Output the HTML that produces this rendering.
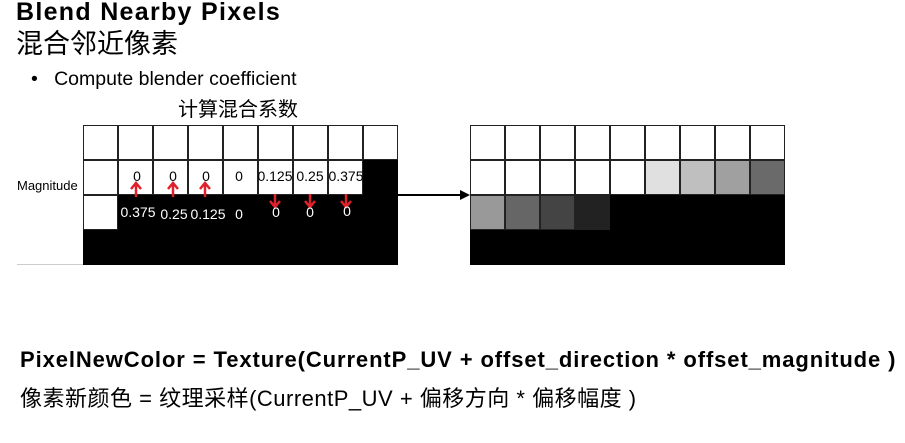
<!DOCTYPE html><html><head><meta charset="utf-8"><style>
body{margin:0;width:905px;height:443px;background:#fff;position:relative;overflow:hidden;font-family:"Liberation Sans","Noto Sans CJK SC",sans-serif}
.a{position:absolute;white-space:nowrap}
.c{position:absolute;width:33px;height:33px;border:1px solid #222;background:#fff}
.n{position:absolute;font-size:14px;width:40px;text-align:center;z-index:3}
</style></head><body>
<div class="a" style="left:16px;top:-2px;font-size:25px;font-weight:bold;letter-spacing:1.3px">Blend Nearby Pixels</div>
<div class="a" style="left:16px;top:22px;font-size:27px">混合邻近像素</div>
<div class="a" style="left:31px;top:68px;font-size:19.5px">•&nbsp;&nbsp;&nbsp;Compute blender coefficient</div>
<div class="a" style="left:178px;top:93px;font-size:20px">计算混合系数</div>
<div class="a" style="left:17px;top:178px;font-size:13px">Magnitude</div>
<div class="a" style="left:17px;top:264px;width:66px;height:1px;background:#ccc"></div>
<svg class="a" style="left:0;top:0;z-index:0" width="905" height="443">
<rect x="83" y="125" width="315" height="140" fill="#000"/>
<rect x="470" y="125" width="315" height="140" fill="#000"/>
<line x1="398" y1="195" x2="462" y2="195" stroke="#000" stroke-width="2"/>
<polygon points="470,195 460,190 460,200" fill="#000"/>
</svg>
<div id="g"></div>
<svg class="a" style="left:0;top:0;z-index:2" width="905" height="443">
<g stroke="#e0202a" stroke-width="2.5" fill="none">
<path d="M136 197V184M131 189L136 183L141 189"/>
<path d="M173 197V184M168 189L173 183L178 189"/>
<path d="M205 197V184M200 189L205 183L210 189"/>
<path d="M275 194V206M270 201L275 207L280 201"/>
<path d="M310 194V206M305 201L310 207L315 201"/>
<path d="M346 194V206M341 201L346 207L351 201"/>
</g></svg>
<div class="n" style="left:117px;top:168px">0</div>
<div class="n" style="left:153px;top:168px">0</div>
<div class="n" style="left:186px;top:168px">0</div>
<div class="n" style="left:219px;top:168px">0</div>
<div class="n" style="left:255px;top:168px">0.125</div>
<div class="n" style="left:290px;top:168px">0.25</div>
<div class="n" style="left:326px;top:168px">0.375</div>
<div class="n" style="left:118px;top:204px;color:#fff">0.375</div>
<div class="n" style="left:154px;top:206px;color:#fff">0.25</div>
<div class="n" style="left:188px;top:206px;color:#fff">0.125</div>
<div class="n" style="left:219px;top:206px;color:#fff">0</div>
<div class="n" style="left:256px;top:204px;color:#fff">0</div>
<div class="n" style="left:290px;top:204px;color:#fff">0</div>
<div class="n" style="left:327px;top:203px;color:#fff">0</div>
<div class="a" style="left:20px;top:347px;font-size:22px;font-weight:bold;letter-spacing:0.9px">PixelNewColor = Texture(CurrentP_UV + offset_direction * offset_magnitude )</div>
<div class="a" style="left:20px;top:381px;font-size:22px;letter-spacing:0.5px">像素新颜色 = 纹理采样(CurrentP_UV + 偏移方向 * 偏移幅度 )</div>
<script>
var h='';
function c(x,y,col){h+='<div class="c" style="left:'+x+'px;top:'+y+'px;background:'+col+'"></div>';}
for(var i=0;i<9;i++){c(83+i*35,125,'#fff');c(470+i*35,125,'#fff');}
for(var i=0;i<8;i++)c(83+i*35,160,'#fff');
c(83,195,'#fff');
var r=['#fff','#fff','#fff','#fff','#fff','#e0e0e0','#bfbfbf','#a0a0a0','#6a6a6a'];
for(var i=0;i<9;i++)c(470+i*35,160,r[i]);
var b=['#999','#666','#444','#222'];
for(var i=0;i<4;i++)c(470+i*35,195,b[i]);
document.getElementById('g').innerHTML=h;
</script>
</body></html>
